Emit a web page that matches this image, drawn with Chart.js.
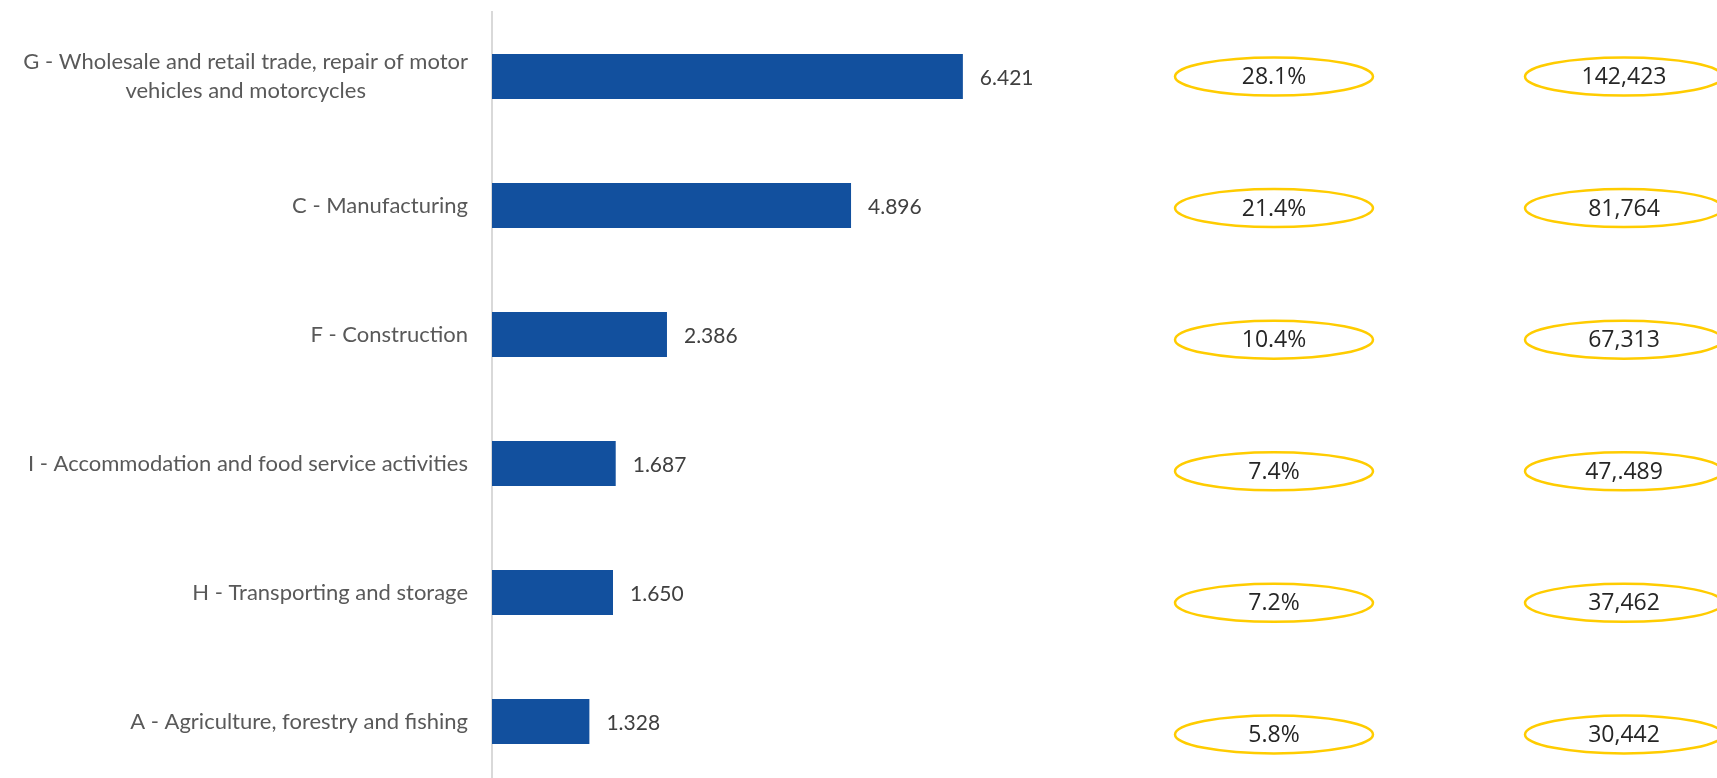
<!DOCTYPE html>
<html>
<head>
<meta charset="utf-8">
<script src="https://cdn.jsdelivr.net/npm/chart.js@4.4.0/dist/chart.umd.min.js"></script>
<style>
  html, body { margin: 0; padding: 0; background: #fff; overflow: hidden; }
  #wrap { width: 1717px; height: 786px; }
</style>
</head>
<body>
<div id="wrap"><canvas id="myChart"></canvas></div>
<script>
// data
const categories = [
  ['G - Wholesale and retail trade, repair of motor', 'vehicles and motorcycles'],
  'C - Manufacturing',
  'F - Construction',
  'I - Accommodation and food service activities',
  'H - Transporting and storage',
  'A - Agriculture, forestry and fishing'
];
const values = [6.421, 4.896, 2.386, 1.687, 1.650, 1.328];
const shares = [28.1, 21.4, 10.4, 7.4, 7.2, 5.8];
const counts = ['142,423', '81,764', '67,313', '47,.489', '37,462', '30,442'];

const barColor = '#12509E';

// labels, value tags and the yellow ovals
const extras = {
  id: 'extras',
  afterDatasetsDraw(chart) {
    const ctx = chart.ctx;
    const xs = chart.scales.x;
    const ys = chart.scales.y;
    const area = chart.chartArea;
    ctx.save();
    ctx.textBaseline = 'middle';

    // category labels, multi-line ones centred on their widest line
    ctx.font = '22px Lato';
    ctx.fillStyle = '#595959';
    ctx.textAlign = 'center';
    categories.forEach((lab, i) => {
      let lines = Array.isArray(lab) ? lab : [lab];
      let w = Math.max(...lines.map(l => ctx.measureText(l).width));
      let cx = area.left - 24 - w / 2;
      let cy = ys.getPixelForValue(i);
      lines.forEach((l, j) => {
        ctx.fillText(l, cx, cy + (j - (lines.length - 1) / 2) * 29);
      });
    });

    // value at the end of each bar
    ctx.font = '21px Lato';
    ctx.fillStyle = '#404040';
    ctx.textAlign = 'left';
    values.forEach((v, i) => {
      ctx.fillText(v.toFixed(3), xs.getPixelForValue(v) + 17, ys.getPixelForValue(i) + 2);
    });

    // ovals: rows drift a little lower than the bars
    let y0 = ys.getPixelForValue(0);
    let step = (ys.getPixelForValue(1) - y0) * 1.02;
    ctx.strokeStyle = '#FFCC00';
    ctx.lineWidth = 2.5;
    ctx.font = '23px "Open Sans"';
    ctx.fillStyle = '#262626';
    ctx.textAlign = 'center';
    shares.forEach((s, i) => {
      let cy = y0 + i * step;
      [[1274, s.toFixed(1) + '%'], [1624, counts[i]]].forEach(([cx, txt]) => {
        ctx.beginPath();
        ctx.ellipse(cx, cy, 99, 19, 0, 0, Math.PI * 2);
        ctx.stroke();
        ctx.fillText(txt, cx, cy + 1);
      });
    });
    ctx.restore();
  }
};

let ctx = document.getElementById('myChart').getContext('2d');
const myChart = new Chart(ctx, {
  type: 'bar',
  data: {
    labels: categories,
    datasets: [{
      data: values,
      backgroundColor: barColor,
      borderWidth: 0,
      barPercentage: 0.7,
      categoryPercentage: 0.5
    }]
  },
  options: {
    indexAxis: 'y',
    responsive: true,
    maintainAspectRatio: false,
    animation: false,
    layout: { padding: { left: 492, right: 125, top: 12, bottom: 0 } },
    plugins: {
      legend: { display: false },
      tooltip: { enabled: false }
    },
    scales: {
      x: { display: false, min: 0, max: 15 },
      y: {
        ticks: { display: false },
        grid: { display: false },
        border: { display: true, color: '#d9d9d9', width: 2 },
        afterFit(s) { s.width = 0; }
      }
    }
  },
  plugins: [extras]
});
</script>
</body>
</html>
